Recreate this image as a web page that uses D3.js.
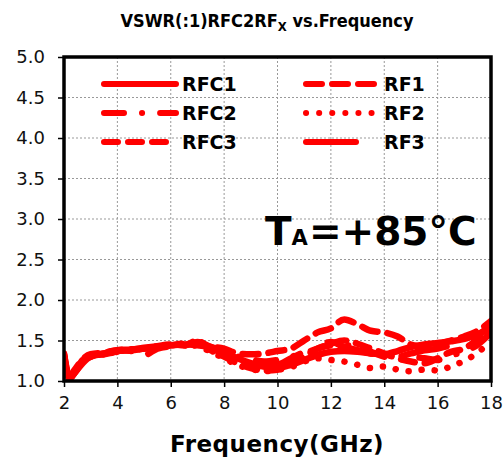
<!DOCTYPE html>
<html>
<head>
<meta charset="utf-8">
<script src="https://cdn.jsdelivr.net/npm/d3@7"></script>
<style>
  body { margin: 0; background: #fff; }
  svg { display: block; }
</style>
</head>
<body>
<div id="wrapper"></div>
<script>
// frequency points (GHz)
const freq = [2.0, 2.1, 2.2, 2.4, 2.7, 3.0, 3.5, 4.0, 4.5, 5.0, 5.5, 6.0, 6.5, 7.0, 7.5, 8.0, 8.5, 9.0, 9.5,
              10.0, 10.5, 11.0, 11.5, 12.0, 12.5, 13.0, 13.5, 14.0, 14.5, 15.0, 15.5, 16.0, 16.5, 17.0, 17.5, 18.0];

const rfc1 = [1.34,1.15,1.03,1.10,1.22,1.30,1.34,1.37,1.38,1.40,1.42,1.44,1.45,1.45,1.42,1.36,1.28,1.22,1.18,
              1.16,1.20,1.26,1.32,1.36,1.37,1.36,1.34,1.33,1.37,1.42,1.45,1.47,1.49,1.52,1.58,1.65];
const rfc2 = [1.30,1.10,1.04,1.12,1.25,1.31,1.33,1.36,1.37,1.32,1.40,1.43,1.44,1.46,1.40,1.34,1.30,1.27,1.24,
              1.26,1.30,1.34,1.40,1.44,1.44,1.42,1.36,1.30,1.26,1.30,1.28,1.26,1.32,1.36,1.45,1.60];
const rfc3 = [1.32,1.12,1.05,1.14,1.27,1.33,1.35,1.38,1.39,1.40,1.43,1.45,1.44,1.50,1.38,1.30,1.22,1.16,1.13,
              1.14,1.22,1.30,1.40,1.46,1.50,1.46,1.40,1.34,1.28,1.24,1.22,1.28,1.36,1.40,1.52,1.68];
const rf1  = [1.30,1.12,1.03,1.10,1.24,1.30,1.34,1.37,1.38,1.40,1.42,1.44,1.46,1.44,1.42,1.40,1.34,1.33,1.34,
              1.37,1.40,1.50,1.60,1.65,1.76,1.70,1.62,1.60,1.55,1.45,1.42,1.45,1.50,1.55,1.62,1.74];
const rf2  = [1.30,1.12,1.04,1.12,1.24,1.30,1.33,1.36,1.38,1.40,1.42,1.44,1.45,1.43,1.36,1.28,1.20,1.15,1.12,
              1.14,1.17,1.24,1.28,1.26,1.24,1.20,1.16,1.18,1.14,1.12,1.14,1.13,1.18,1.25,1.35,1.50];
const rf3  = [1.33,1.14,1.04,1.11,1.26,1.32,1.35,1.38,1.39,1.41,1.43,1.45,1.44,1.48,1.42,1.36,1.28,1.22,1.18,
              1.20,1.28,1.36,1.44,1.48,1.42,1.38,1.34,1.32,1.30,1.34,1.38,1.40,1.44,1.46,1.56,1.70];

const seriesNames = ["RFC1", "RFC2", "RFC3", "RF1", "RF2", "RF3"];
const seriesValues = [rfc1, rfc2, rfc3, rf1, rf2, rf3];
const seriesDash = ["none", "20,18,0.1,18", "14,10", "16,10", "0.1,13", "46,30"];

const xTicks = [2, 4, 6, 8, 10, 12, 14, 16, 18];
const yTicks = [1.0, 1.5, 2.0, 2.5, 3.0, 3.5, 4.0, 4.5, 5.0];

let width = 504, height = 461;
let pLeft = 64, pRight = 491, pTop = 57, pBottom = 381;

let svg = d3.select("#wrapper")
            .append("svg")
            .attr("width", width)
            .attr("height", height);

let xScale = d3.scaleLinear()
                .domain([2, 18])
                .range([pLeft, pRight]);

let yScale = d3.scaleLinear()
                .domain([1, 5])
                .range([pBottom, pTop]);

// grid
svg.append("g")
    .selectAll("line")
    .data(xTicks.slice(1, -1))
    .enter()
    .append("line")
    .attr("x1", d => xScale(d)).attr("x2", d => xScale(d))
    .attr("y1", pTop).attr("y2", pBottom)
    .attr("stroke", "#999")
    .attr("stroke-width", 1)
    .attr("stroke-dasharray", "2,2");

svg.append("g")
    .selectAll("line")
    .data(yTicks.slice(1, -1))
    .enter()
    .append("line")
    .attr("x1", pLeft).attr("x2", pRight)
    .attr("y1", d => yScale(d)).attr("y2", d => yScale(d))
    .attr("stroke", "#999")
    .attr("stroke-width", 1)
    .attr("stroke-dasharray", "2,2");

// axes
let xAxisFunction = d3.axisBottom(xScale)
                        .tickValues(xTicks)
                        .tickFormat(d3.format("d"))
                        .tickSize(6)
                        .tickPadding(9);

let xG = svg.append("g")
            .call(xAxisFunction)
            .attr("transform", `translate(0, ${pBottom})`);

let yAxisFunction = d3.axisLeft(yScale)
                        .tickValues(yTicks)
                        .tickFormat(d3.format(".1f"))
                        .tickSize(6)
                        .tickPadding(13);

let yG = svg.append("g")
            .call(yAxisFunction)
            .attr("transform", `translate(${pLeft}, 0)`);

[xG, yG].forEach(g => {
    g.select(".domain").remove();
    g.selectAll("line").attr("stroke", "#000").attr("stroke-width", 1.5);
    g.selectAll("text")
        .style("font-family", "'DejaVu Sans', sans-serif")
        .style("font-size", "18px")
        .attr("fill", "#111");
});

// data lines
const dMaker = d3.line()
            .x((d, i) => xScale(freq[i]))
            .y(d => yScale(d))
            .curve(d3.curveMonotoneX);

svg.append("clipPath")
    .attr("id", "plotClip")
    .append("rect")
    .attr("x", pLeft).attr("y", pTop)
    .attr("width", pRight - pLeft).attr("height", pBottom - pTop + 2);

svg.append("g")
    .attr("clip-path", "url(#plotClip)")
    .selectAll("path")
    .data(seriesValues)
    .enter()
    .append("path")
    .attr("d", d => dMaker(d))
    .attr("fill", "none")
    .attr("stroke", "#ff0000")
    .attr("stroke-width", 6.5)
    .attr("stroke-linecap", "round")
    .attr("stroke-linejoin", "round")
    .attr("stroke-dasharray", (d, i) => seriesDash[i]);

// frame
svg.append("rect")
    .attr("x", pLeft).attr("y", pTop)
    .attr("width", pRight - pLeft).attr("height", pBottom - pTop)
    .attr("fill", "none")
    .attr("stroke", "#000")
    .attr("stroke-width", 3.5);

// legend
let legendRows = [84, 113, 142];
let legend = svg.append("g")
                .selectAll("g")
                .data(seriesNames)
                .enter()
                .append("g")
                .attr("transform", (d, i) => `translate(${i < 3 ? 104 : 306}, ${legendRows[i % 3]})`);

legend.append("line")
    .attr("x1", 0).attr("x2", (d, i) => i == 5 ? 50 : 72)
    .attr("y1", 0).attr("y2", 0)
    .attr("stroke", "#ff0000")
    .attr("stroke-width", 6)
    .attr("stroke-linecap", "round")
    .attr("stroke-dasharray", (d, i) => i == 5 ? "none" : seriesDash[i]);

legend.append("text")
    .attr("x", 78)
    .attr("y", 7)
    .style("font-family", "'DejaVu Sans', sans-serif")
    .style("font-weight", "bold")
    .style("font-size", "19px")
    .text(d => d);

// title
let title = svg.append("text")
                .attr("x", 267)
                .attr("y", 27)
                .style("text-anchor", "middle")
                .style("font-family", "'DejaVu Sans Condensed', 'DejaVu Sans', sans-serif")
                .style("font-weight", "bold")
                .style("font-size", "18px");
title.append("tspan").text("VSWR(:1)RFC2RF");
title.append("tspan").attr("dy", 4).style("font-size", "13px").text("X");
title.append("tspan").attr("dy", -4).text(" vs.Frequency");

// x axis title
svg.append("text")
    .attr("x", 277)
    .attr("y", 452)
    .style("text-anchor", "middle")
    .style("font-family", "'DejaVu Sans', sans-serif")
    .style("font-weight", "bold")
    .style("font-size", "23px")
    .style("letter-spacing", "0.5px")
    .text("Frequency(GHz)");

// temperature note
let temp = svg.append("text")
                .attr("x", 265)
                .attr("y", 245)
                .style("font-family", "'DejaVu Sans', sans-serif")
                .style("font-weight", "bold")
                .style("font-size", "39px");
temp.append("tspan").text("T");
temp.append("tspan").style("font-size", "21px").text("A");
temp.append("tspan").attr("dx", 1).text("=+85°C");
</script>
</body>
</html>
